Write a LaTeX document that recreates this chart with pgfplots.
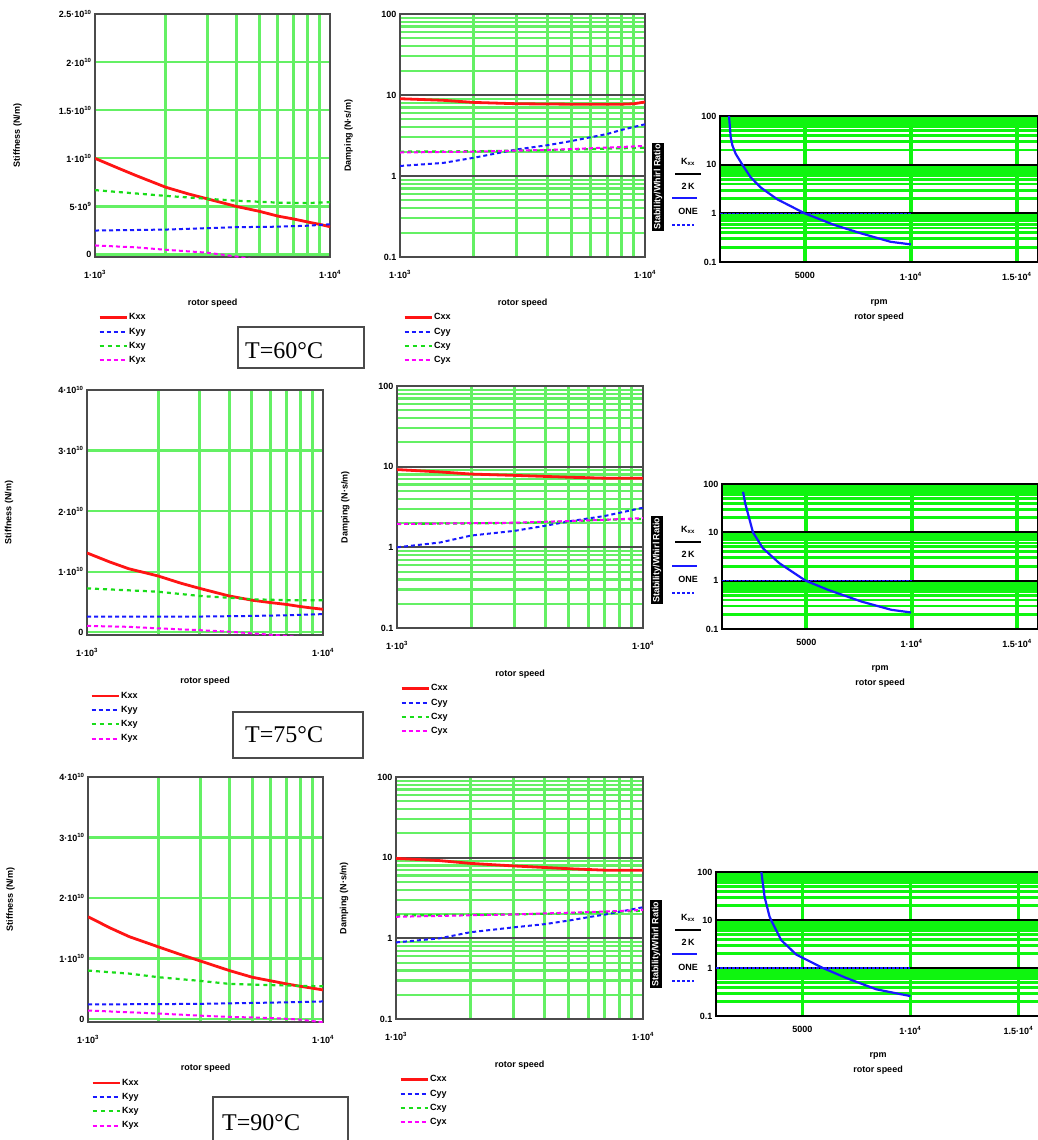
\documentclass[border=0pt]{standalone}
\usepackage{pgfplots}
\pgfplotsset{compat=1.18}
\usepackage{fontspec}
\setmainfont{Liberation Serif}
\newfontfamily\mcf{Liberation Sans}

\definecolor{gridg}{RGB}{100,240,100}
\definecolor{brightg}{RGB}{15,245,15}
\definecolor{frame}{RGB}{75,75,75}
\definecolor{kred}{RGB}{255,20,20}
\definecolor{kblue}{RGB}{25,25,255}
\definecolor{kgreen}{RGB}{25,220,25}
\definecolor{kmag}{RGB}{255,0,255}

\newcommand{\tk}{\mcf\bfseries\fontsize{9}{10}\selectfont}
\newcommand{\tn}[2]{#1·10\textsuperscript{#2}}

\tikzset{
  kxx/.style={kred, line width=2.8pt},
  kyy/.style={kblue, line width=2pt, dash pattern=on 4pt off 3pt},
  kxy/.style={kgreen, line width=2.2pt, dash pattern=on 4pt off 4pt},
  kyx/.style={kmag, line width=2pt, dash pattern=on 4pt off 3pt},
}

\pgfplotsset{legend image code/.code={\draw[#1] (0pt,0pt) -- (27pt,0pt);}}

\pgfplotsset{
  common/.style={
    scale only axis, clip=true, no markers,
    major tick length=0pt, minor tick length=0pt,
    ticklabel style={font=\tk}, label style={font=\tk},
    scaled x ticks=false, scaled y ticks=false,
  },
  lowx/.style={
    xmin=1000, xmax=10000,
    xtick={1000,10000}, xticklabels={{\tn{1}{3}},{\tn{1}{4}}},
    minor xtick={2000,3000,4000,5000,6000,7000,8000,9000},
    xminorgrids=true, minor x grid style={gridg, line width=3pt},
    xticklabel style={yshift=-10pt},
    xlabel={rotor speed},
    xlabel style={at={(0.5,-0.19)}, anchor=center},
    axis line style={draw=frame, line width=1.6pt},
    legend cell align=left,
    legend style={draw=none, fill=none, font=\tk, anchor=north west,
      at={(0,-0.22)}, row sep=4.5pt, nodes={inner sep=1pt}},
  },
  stiffplot/.style={common, lowx,
    ymajorgrids=true, major y grid style={gridg, line width=2.2pt},
    ylabel={Stiffness (N/m)},
    ylabel style={at={(-0.33,0.5)}, anchor=center},
  },
  dampplot/.style={common, lowx,
    ymin=0.1, ymax=100,
    ytick={0.1,1,10,100}, yticklabels={0.1,1,10,100},
    minor ytick={0.2,0.3,0.4,0.5,0.6,0.7,0.8,0.9,2,3,4,5,6,7,8,9,20,30,40,50,60,70,80,90},
    yminorgrids=true, minor y grid style={gridg, line width=2.2pt},
    ymajorgrids=true, major y grid style={frame, line width=1.8pt},
    ylabel={Damping (N·s/m)},
    ylabel style={at={(-0.21,0.5)}, anchor=center},
  },
  ratioplot/.style={common,
    axis line style={draw=black, line width=1.8pt},
    xmin=1000, xmax=16000, ymin=0.1, ymax=100,
    xtick={5000,10000,15000},
    xticklabels={5000,{\tn{1}{4}},{\tn{1.5}{4}}},
    ytick={0.1,1,10,100}, yticklabels={0.1,1,10,100},
    minor ytick={0.2,0.3,0.4,0.5,0.6,0.7,0.8,0.9,2,3,4,5,6,7,8,9,20,30,40,50,60,70,80,90},
    yminorgrids=true, minor y grid style={brightg, line width=2.8pt},
    xmajorgrids=true, major x grid style={brightg, line width=3.8pt},
    ymajorgrids=true, major y grid style={black, line width=1.8pt},
    xticklabel style={yshift=-7pt},
    xlabel={rpm\\[5pt]rotor speed},
    xlabel style={align=center, at={(0.5,-0.33)}, anchor=center},
  },
}

% legend of the ratio plots, #1 = top of the axis (px)
\newcommand{\rleg}[1]{%
  \begin{scope}[yshift=-#1pt]
    \node[font=\tk] at (688,-46) {K\textsubscript{xx}};
    \draw[line width=1.4pt] (675,-58) -- (701,-58);
    \node[font=\tk] at (688,-70) {2\,K};
    \draw[kblue, line width=1.8pt] (672,-82) -- (697,-82);
    \node[font=\tk] at (688,-95) {ONE};
    \draw[kblue, line width=1.6pt, dash pattern=on 3pt off 2pt] (672,-109) -- (694,-109);
  \end{scope}}
\newcommand{\wlab}[2]{\node[fill=black, text=white, rotate=90, font=\mcf\bfseries\fontsize{9}{10}\selectfont, inner sep=1.5pt] at (#1,-#2) {Stability/Whirl Ratio};}

\begin{document}
\begin{tikzpicture}[x=1pt,y=1pt]
\useasboundingbox (0,0) rectangle (1037,-1140);

% ---------------- row 1 : T = 60 C
\begin{semilogxaxis}[stiffplot, at={(95pt,-14pt)}, anchor=north west, width=235pt, height=243pt,
  ymin=-0.25, ymax=25, ytick={0,5,10,15,20,25},
  yticklabels={0,{\tn{5}{9}},{\tn{1}{10}},{\tn{1.5}{10}},{\tn{2}{10}},{\tn{2.5}{10}}}]
\addplot[kxx] coordinates {(1000,10.0)(1250,9.0)(1500,8.2)(2000,7.0)(2500,6.3)(3000,5.8)(4000,5.0)(5000,4.5)(6000,4.0)(7000,3.7)(8000,3.4)(9000,3.15)(10000,2.9)};
\addlegendentry{Kxx}
\addplot[kyy] coordinates {(1000,2.5)(2000,2.6)(3000,2.75)(4000,2.85)(6000,2.9)(8000,3.0)(10000,3.15)};
\addlegendentry{Kyy}
\addplot[kxy] coordinates {(1000,6.7)(2000,6.1)(3000,5.8)(4000,5.6)(6000,5.4)(8000,5.35)(10000,5.45)};
\addlegendentry{Kxy}
\addplot[kyx] coordinates {(1000,0.95)(1500,0.75)(2000,0.5)(3000,0.2)(4000,-0.2)(5000,-0.6)};
\addlegendentry{Kyx}
\end{semilogxaxis}

\begin{loglogaxis}[dampplot, at={(400pt,-14pt)}, anchor=north west, width=245pt, height=243pt]
\addplot[kxx] coordinates {(1000,9.0)(1500,8.6)(2000,8.1)(3000,7.8)(5000,7.7)(8000,7.7)(9000,7.8)(10000,8.2)};
\addlegendentry{Cxx}
\addplot[kyy] coordinates {(1000,1.33)(1500,1.45)(2000,1.68)(3000,2.13)(4000,2.4)(5000,2.7)(7000,3.3)(8000,3.7)(10000,4.35)};
\addlegendentry{Cyy}
\addplot[kxy] coordinates {(1000,2.0)(2000,2.02)(4000,2.08)(6000,2.15)(10000,2.24)};
\addlegendentry{Cxy}
\addplot[kyx] coordinates {(1000,1.95)(2000,2.0)(4000,2.1)(6000,2.2)(10000,2.35)};
\addlegendentry{Cyx}
\end{loglogaxis}

\begin{semilogyaxis}[ratioplot, at={(720pt,-116pt)}, anchor=north west, width=318pt, height=146pt]
\addplot[kblue, line width=2.2pt] coordinates {(1425,100)(1503,37)(1582,25)(1739,16.7)(2053,10)(2447,5.5)(2918,3.4)(3704,1.94)(4994,1.0)(6377,0.58)(7635,0.39)(9050,0.26)(10000,0.23)};
\addplot[kblue, line width=1.4pt, dash pattern=on 2.5pt off 1.5pt] coordinates {(1000,1)(10000,1)};
\end{semilogyaxis}
\rleg{116}
\wlab{658}{187}

\draw[frame, line width=1.2pt] (238,-327) rectangle (364,-368);
\node[anchor=base west, inner sep=0pt, font=\fontsize{24}{28}\selectfont] at (245,-358) {T=60°C};

% ---------------- row 2 : T = 75 C
\begin{semilogxaxis}[stiffplot, at={(87pt,-390pt)}, anchor=north west, width=236pt, height=245pt,
  ymin=-0.45, ymax=40, ytick={0,10,20,30,40},
  yticklabels={0,{\tn{1}{10}},{\tn{2}{10}},{\tn{3}{10}},{\tn{4}{10}}}]
\addplot[kxx] coordinates {(1000,13.1)(1250,11.6)(1500,10.5)(2000,9.3)(2500,8.1)(3000,7.25)(4000,6.0)(5000,5.3)(6000,4.9)(7000,4.6)(8000,4.25)(9000,4.0)(10000,3.8)};
\addlegendentry{Kxx}
\addplot[kyy] coordinates {(1000,2.6)(3000,2.6)(5000,2.7)(7000,2.8)(10000,3.0)};
\addlegendentry{Kyy}
\addplot[kxy] coordinates {(1000,7.25)(2000,6.7)(3000,6.0)(4000,5.7)(5000,5.45)(7000,5.3)(10000,5.3)};
\addlegendentry{Kxy}
\addplot[kyx] coordinates {(1000,1.05)(1500,0.9)(2000,0.65)(3000,0.35)(4000,0.1)(6000,-0.4)(8000,-0.8)};
\addlegendentry{Kyx}
\end{semilogxaxis}

\begin{loglogaxis}[dampplot, at={(397pt,-386pt)}, anchor=north west, width=246pt, height=242pt]
\addplot[kxx] coordinates {(1000,9.2)(1500,8.6)(2000,8.1)(3000,7.8)(5000,7.4)(7000,7.2)(10000,7.2)};
\addlegendentry{Cxx}
\addplot[kyy] coordinates {(1000,1.0)(1500,1.15)(2000,1.4)(3000,1.6)(4000,1.85)(5000,2.1)(7000,2.45)(10000,3.1)};
\addlegendentry{Cyy}
\addplot[kxy] coordinates {(1000,1.95)(3000,2.0)(5000,2.1)(7000,2.2)(10000,2.25)};
\addlegendentry{Cxy}
\addplot[kyx] coordinates {(1000,1.95)(3000,2.02)(5000,2.12)(7000,2.2)(10000,2.3)};
\addlegendentry{Cyx}
\end{loglogaxis}

\begin{semilogyaxis}[ratioplot, at={(722pt,-484pt)}, anchor=north west, width=316pt, height=145pt]
\addplot[kblue, line width=2.2pt] coordinates {(2000,69)(2100,40)(2230,24.5)(2470,10)(2940,4.7)(3720,2.3)(4970,1.0)(6060,0.64)(7620,0.37)(9030,0.25)(9970,0.22)};
\addplot[kblue, line width=1.4pt, dash pattern=on 2.5pt off 1.5pt] coordinates {(1000,1)(10000,1)};
\end{semilogyaxis}
\rleg{484}
\wlab{657}{560}

\draw[frame, line width=1.2pt] (233,-712) rectangle (363,-758);
\node[anchor=base west, inner sep=0pt, font=\fontsize{24}{28}\selectfont] at (245,-742) {T=75°C};

% ---------------- row 3 : T = 90 C
\begin{semilogxaxis}[stiffplot, at={(88pt,-777pt)}, anchor=north west, width=235pt, height=245pt,
  ymin=-0.5, ymax=40, ytick={0,10,20,30,40},
  yticklabels={0,{\tn{1}{10}},{\tn{2}{10}},{\tn{3}{10}},{\tn{4}{10}}}]
\addplot[kxx] coordinates {(1000,16.9)(1250,15.0)(1500,13.6)(2000,11.9)(2500,10.6)(3000,9.6)(4000,8.0)(5000,6.9)(6000,6.3)(7000,5.8)(8000,5.4)(9000,5.1)(10000,4.8)};
\addlegendentry{Kxx}
\addplot[kyy] coordinates {(1000,2.4)(3000,2.5)(5000,2.65)(7000,2.75)(10000,2.9)};
\addlegendentry{Kyy}
\addplot[kxy] coordinates {(1000,8.0)(1500,7.5)(2000,6.9)(3000,6.3)(4000,5.8)(6000,5.6)(10000,5.4)};
\addlegendentry{Kxy}
\addplot[kyx] coordinates {(1000,1.4)(2000,0.9)(3000,0.55)(4000,0.35)(6000,0.17)(8000,-0.1)(10000,-0.55)};
\addlegendentry{Kyx}
\end{semilogxaxis}

\begin{loglogaxis}[dampplot, at={(396pt,-777pt)}, anchor=north west, width=247pt, height=242pt]
\addplot[kxx] coordinates {(1000,9.8)(1500,9.2)(2000,8.5)(3000,7.9)(5000,7.3)(7000,7.0)(10000,7.0)};
\addlegendentry{Cxx}
\addplot[kyy] coordinates {(1000,0.89)(1500,1.0)(2000,1.19)(3000,1.37)(4000,1.5)(5000,1.66)(6000,1.83)(7000,1.97)(10000,2.43)};
\addlegendentry{Cyy}
\addplot[kxy] coordinates {(1000,1.92)(3000,1.98)(5000,2.05)(7000,2.12)(10000,2.2)};
\addlegendentry{Cxy}
\addplot[kyx] coordinates {(1000,1.85)(3000,1.98)(5000,2.08)(7000,2.15)(10000,2.25)};
\addlegendentry{Cyx}
\end{loglogaxis}

\begin{semilogyaxis}[ratioplot, at={(716pt,-872pt)}, anchor=north west, width=324pt, height=144pt]
\addplot[kblue, line width=2.2pt] coordinates {(3100,100)(3250,30)(3480,11.7)(3600,9)(4020,3.8)(4720,1.9)(5950,1.0)(7030,0.62)(8420,0.36)(10000,0.26)};
\addplot[kblue, line width=1.4pt, dash pattern=on 2.5pt off 1.5pt] coordinates {(1000,1)(10000,1)};
\end{semilogyaxis}
\rleg{872}
\wlab{656}{944}

\draw[frame, line width=1.2pt] (213,-1097) rectangle (348,-1145);
\node[anchor=base west, inner sep=0pt, font=\fontsize{24}{28}\selectfont] at (222,-1130) {T=90°C};
\end{tikzpicture}
\end{document}
